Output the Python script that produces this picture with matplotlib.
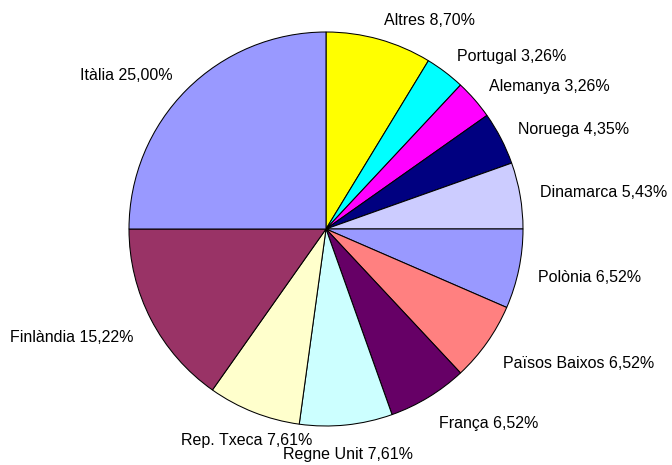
import numpy as np
import matplotlib.pyplot as plt

plt.rcParams['font.family'] = ['Liberation Sans', 'DejaVu Sans']

paisos = ['Altres', 'Portugal', 'Alemanya', 'Noruega', 'Dinamarca', 'Polònia',
          'Països Baixos', 'França', 'Regne Unit', 'Rep. Txeca', 'Finlàndia', 'Itàlia']
percents = [8.70, 3.26, 3.26, 4.35, 5.43, 6.52, 6.52, 6.52, 7.61, 7.61, 15.22, 25.00]
colors = ['#FFFF00', '#00FFFF', '#FF00FF', '#000080', '#CCCCFF', '#9999FF',
          '#FF8080', '#660066', '#CCFFFF', '#FFFFCC', '#993366', '#9999FF']

fig = plt.figure(figsize=(6.72, 4.65), dpi=100)
ax = fig.add_axes([0, 0, 1, 1])

labels = [p + ' ' + f"{v:.2f}".replace('.', ',') + '%' for p, v in zip(paisos, percents)]
wedges, texts = ax.pie(percents, colors=colors, startangle=90, counterclock=False,
                       labels=labels, labeldistance=1.1,
                       wedgeprops=dict(edgecolor='black', linewidth=0.75),
                       textprops=dict(fontsize=11.5, color='black'))

# place labels Excel-style around the pie
for w, t in zip(wedges, texts):
    ang = np.deg2rad((w.theta1 + w.theta2) / 2)
    c, s = np.cos(ang), np.sin(ang)
    x, y = 1.1 * c, 1.1 * s
    if s > 0:
        lim = 0.2
    else:
        lim = 0.45
        y -= 0.05 * min(1.0, 2 * abs(s))
    t.set_position((x, y))
    if abs(c) < lim:
        t.set_ha('center')
    elif c > 0:
        t.set_ha('left')
    else:
        t.set_ha('right')
    t.set_va('center')

# map data units to pixels: center (326, 229), radius 197 px
r = 197.0
ax.set_xlim(-326 / r, (672 - 326) / r)
ax.set_ylim(-(465 - 229) / r, 229 / r)
ax.set_aspect('equal')
ax.axis('off')

plt.savefig('out.png', dpi=100)
